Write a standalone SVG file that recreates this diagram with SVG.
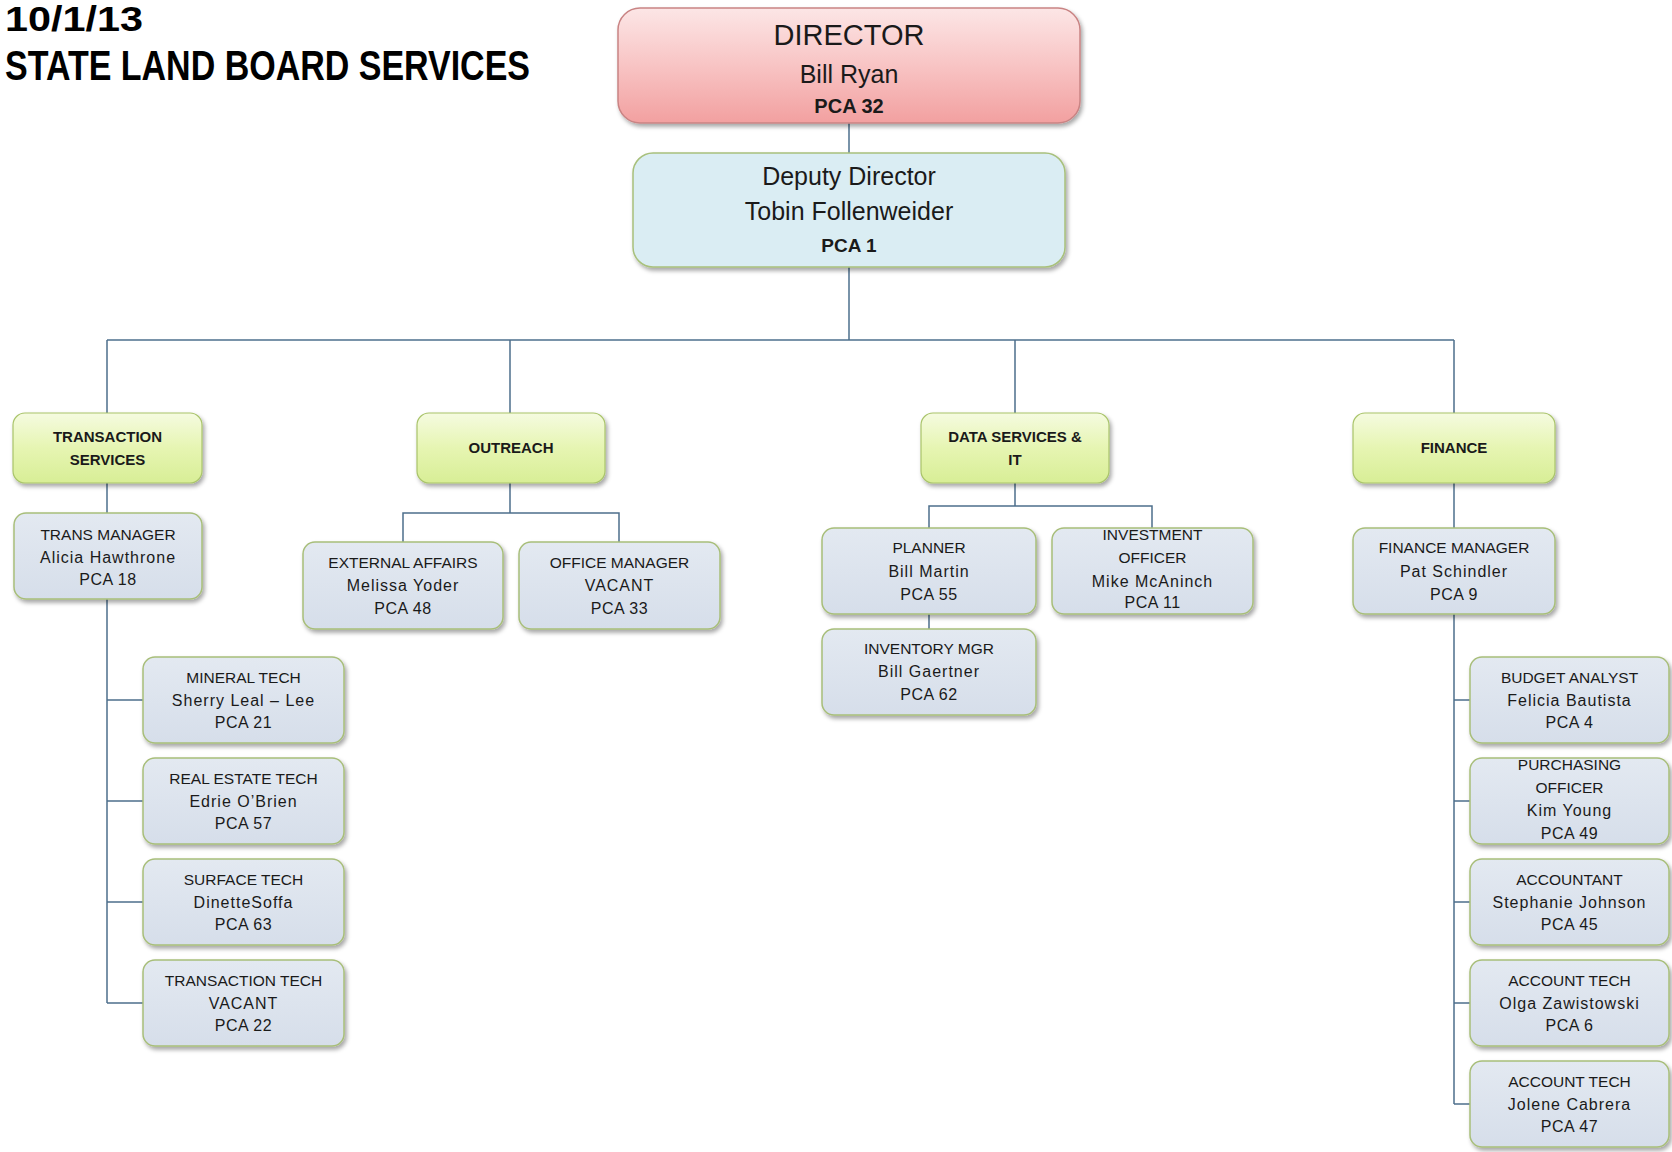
<svg xmlns="http://www.w3.org/2000/svg" width="1672" height="1152" viewBox="0 0 1672 1152">
<defs>
<linearGradient id="gRed" x1="0" y1="0" x2="0" y2="1"><stop offset="0" stop-color="#fce6e6"/><stop offset="0.5" stop-color="#f8c4c4"/><stop offset="1" stop-color="#f2a0a0"/></linearGradient>
<linearGradient id="gGreen" x1="0" y1="0" x2="0" y2="1"><stop offset="0" stop-color="#f5fbe0"/><stop offset="0.5" stop-color="#e6f5b2"/><stop offset="1" stop-color="#d8ee96"/></linearGradient>
<linearGradient id="gBlue" x1="0" y1="0" x2="0" y2="1"><stop offset="0" stop-color="#e3e9f1"/><stop offset="1" stop-color="#d6deea"/></linearGradient>
<filter id="sh" x="-10%" y="-10%" width="120%" height="130%"><feDropShadow dx="2" dy="3" stdDeviation="2" flood-color="#000" flood-opacity="0.35"/></filter>
</defs>
<style>
text{font-family:"Liberation Sans",Arial,sans-serif;fill:#1a1a1a;text-anchor:middle}
.title{text-anchor:start;font-weight:bold;fill:#000}
.dir{fill:url(#gRed);stroke:#c98484;stroke-width:1.5;filter:url(#sh)}
.dep{fill:#daedf3;stroke:#a8c07c;stroke-width:1.5;filter:url(#sh)}
.grn{fill:url(#gGreen);stroke:#a9c46a;stroke-width:1.2;filter:url(#sh)}
.sub{fill:url(#gBlue);stroke:#a8be7a;stroke-width:1.5;filter:url(#sh)}
.g{font-weight:bold;font-size:15px}
.t{font-size:15.5px}
.n{font-size:16px;letter-spacing:1px}
.p{font-size:16px;letter-spacing:0.5px}
.conn path{fill:none;stroke:#4d6f8c;stroke-width:1.5}
</style>
<rect width="1672" height="1152" fill="#ffffff"/>
<g id="title">
<text class="title" x="5" y="31" font-size="35" textLength="138" lengthAdjust="spacingAndGlyphs">10/1/13</text>
<text class="title" x="5" y="80" font-size="42" textLength="525" lengthAdjust="spacingAndGlyphs">STATE LAND BOARD SERVICES</text>
</g>
<g class="conn" id="connectors">
<path d="M849 123V153"/>
<path d="M849 267V340"/>
<path d="M107 340H1454"/>
<path d="M107 340V413M510 340V413M1015 340V413M1454 340V413"/>
<path d="M107 483V513"/>
<path d="M107 599V1003M107 700H143M107 801H143M107 902H143M107 1003H143"/>
<path d="M510 483V513H403V542M510 513H619V542"/>
<path d="M1015 483V506H929V528M1015 506H1152V528M929 614V629"/>
<path d="M1454 483V528"/>
<path d="M1454 614V1104M1454 700H1470M1454 801H1470M1454 902H1470M1454 1003H1470M1454 1104H1470"/>
</g>
<g id="director">
<rect class="dir" x="618" y="8" width="462" height="115" rx="22"/>
<text x="849" y="45" font-size="29">DIRECTOR</text>
<text x="849" y="83" font-size="25">Bill Ryan</text>
<text x="849" y="113" font-size="20" font-weight="bold">PCA 32</text>
</g>
<g id="deputy">
<rect class="dep" x="633" y="153" width="432" height="114" rx="20"/>
<text x="849" y="185" font-size="25">Deputy Director</text>
<text x="849" y="220" font-size="25">Tobin Follenweider</text>
<text x="849" y="252" font-size="19" font-weight="bold">PCA 1</text>
</g>
<g id="transaction-services">
<rect class="grn" x="13" y="413" width="189" height="70" rx="12"/>
<text class="g" x="107.5" y="442">TRANSACTION</text>
<text class="g" x="107.5" y="465">SERVICES</text>
</g>
<g id="outreach">
<rect class="grn" x="417" y="413" width="188" height="70" rx="12"/>
<text class="g" x="511" y="453">OUTREACH</text>
</g>
<g id="data-services">
<rect class="grn" x="921" y="413" width="188" height="70" rx="12"/>
<text class="g" x="1015" y="442">DATA SERVICES &amp;</text>
<text class="g" x="1015" y="465">IT</text>
</g>
<g id="finance">
<rect class="grn" x="1353" y="413" width="202" height="70" rx="12"/>
<text class="g" x="1454" y="453">FINANCE</text>
</g>
<g id="trans-manager">
<rect class="sub" x="14" y="513" width="188" height="86" rx="12"/>
<text class="t" x="108" y="540">TRANS MANAGER</text>
<text class="n" x="108" y="563">Alicia Hawthrone</text>
<text class="p" x="108" y="585">PCA 18</text>
</g>
<g id="mineral-tech">
<rect class="sub" x="143" y="657" width="201" height="86" rx="12"/>
<text class="t" x="243.5" y="683">MINERAL TECH</text>
<text class="n" x="243.5" y="706">Sherry Leal – Lee</text>
<text class="p" x="243.5" y="728">PCA 21</text>
</g>
<g id="real-estate-tech">
<rect class="sub" x="143" y="758" width="201" height="86" rx="12"/>
<text class="t" x="243.5" y="784">REAL ESTATE TECH</text>
<text class="n" x="243.5" y="807">Edrie O’Brien</text>
<text class="p" x="243.5" y="829">PCA 57</text>
</g>
<g id="surface-tech">
<rect class="sub" x="143" y="859" width="201" height="86" rx="12"/>
<text class="t" x="243.5" y="885">SURFACE TECH</text>
<text class="n" x="243.5" y="908">DinetteSoffa</text>
<text class="p" x="243.5" y="930">PCA 63</text>
</g>
<g id="transaction-tech">
<rect class="sub" x="143" y="960" width="201" height="86" rx="12"/>
<text class="t" x="243.5" y="986">TRANSACTION TECH</text>
<text class="n" x="243.5" y="1009">VACANT</text>
<text class="p" x="243.5" y="1031">PCA 22</text>
</g>
<g id="external-affairs">
<rect class="sub" x="303" y="542" width="200" height="87" rx="12"/>
<text class="t" x="403" y="568">EXTERNAL AFFAIRS</text>
<text class="n" x="403" y="591">Melissa Yoder</text>
<text class="p" x="403" y="614">PCA 48</text>
</g>
<g id="office-manager">
<rect class="sub" x="519" y="542" width="201" height="87" rx="12"/>
<text class="t" x="619.5" y="568">OFFICE MANAGER</text>
<text class="n" x="619.5" y="591">VACANT</text>
<text class="p" x="619.5" y="614">PCA 33</text>
</g>
<g id="planner">
<rect class="sub" x="822" y="528" width="214" height="86" rx="12"/>
<text class="t" x="929" y="553">PLANNER</text>
<text class="n" x="929" y="577">Bill  Martin</text>
<text class="p" x="929" y="600">PCA 55</text>
</g>
<g id="investment-officer">
<rect class="sub" x="1052" y="528" width="201" height="86" rx="12"/>
<text class="t" x="1152.5" y="540">INVESTMENT</text>
<text class="t" x="1152.5" y="563">OFFICER</text>
<text class="n" x="1152.5" y="587">Mike McAninch</text>
<text class="p" x="1152.5" y="608">PCA 11</text>
</g>
<g id="inventory-mgr">
<rect class="sub" x="822" y="629" width="214" height="86" rx="12"/>
<text class="t" x="929" y="654">INVENTORY MGR</text>
<text class="n" x="929" y="677">Bill Gaertner</text>
<text class="p" x="929" y="700">PCA 62</text>
</g>
<g id="finance-manager">
<rect class="sub" x="1353" y="528" width="202" height="86" rx="12"/>
<text class="t" x="1454" y="553">FINANCE MANAGER</text>
<text class="n" x="1454" y="577">Pat Schindler</text>
<text class="p" x="1454" y="600">PCA 9</text>
</g>
<g id="budget-analyst">
<rect class="sub" x="1470" y="657" width="199" height="86" rx="12"/>
<text class="t" x="1569.5" y="683">BUDGET ANALYST</text>
<text class="n" x="1569.5" y="706">Felicia Bautista</text>
<text class="p" x="1569.5" y="728">PCA 4</text>
</g>
<g id="purchasing-officer">
<rect class="sub" x="1470" y="758" width="199" height="86" rx="12"/>
<text class="t" x="1569.5" y="770">PURCHASING</text>
<text class="t" x="1569.5" y="793">OFFICER</text>
<text class="n" x="1569.5" y="816">Kim Young</text>
<text class="p" x="1569.5" y="839">PCA 49</text>
</g>
<g id="accountant">
<rect class="sub" x="1470" y="859" width="199" height="86" rx="12"/>
<text class="t" x="1569.5" y="885">ACCOUNTANT</text>
<text class="n" x="1569.5" y="908">Stephanie Johnson</text>
<text class="p" x="1569.5" y="930">PCA 45</text>
</g>
<g id="account-tech-olga">
<rect class="sub" x="1470" y="960" width="199" height="86" rx="12"/>
<text class="t" x="1569.5" y="986">ACCOUNT TECH</text>
<text class="n" x="1569.5" y="1009">Olga Zawistowski</text>
<text class="p" x="1569.5" y="1031">PCA 6</text>
</g>
<g id="account-tech-jolene">
<rect class="sub" x="1470" y="1061" width="199" height="86" rx="12"/>
<text class="t" x="1569.5" y="1087">ACCOUNT TECH</text>
<text class="n" x="1569.5" y="1110">Jolene Cabrera</text>
<text class="p" x="1569.5" y="1132">PCA 47</text>
</g>
</svg>
